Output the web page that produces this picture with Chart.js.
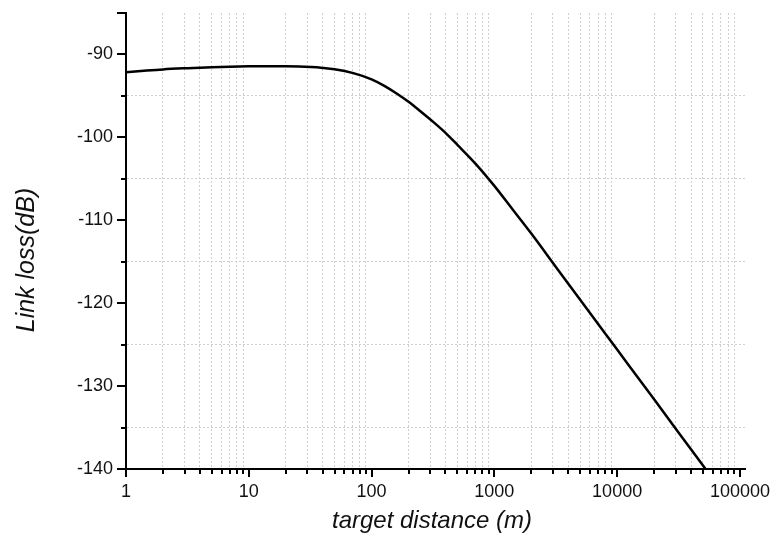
<!DOCTYPE html>
<html>
<head>
<meta charset="utf-8">
<script src="https://cdn.jsdelivr.net/npm/chart.js@4"></script>
<style>
    html, body { margin: 0; padding: 0; background: #fff; }
    #wrap { width: 776px; height: 545px; }
</style>
</head>
<body>
<div id="wrap"><canvas id="lossChart"></canvas></div>
<script>
// Values (distance in m, loss in dB)
const distances = [1, 1.4, 2, 3.2, 5, 7, 10, 14, 20, 32, 40, 50, 71, 100, 126, 160, 200, 250, 316, 400, 500, 710, 1000, 1410, 2000, 3160, 5000, 10000, 20000, 31600, 52500];
const linkLoss = [-92.15, -91.97, -91.8, -91.65, -91.53, -91.47, -91.43, -91.42, -91.43, -91.52, -91.62, -91.78, -92.25, -93.0, -93.75, -94.7, -95.7, -96.85, -98.1, -99.45, -100.9, -103.25, -105.85, -108.7, -111.6, -115.6, -119.6, -125.6, -131.6, -135.6, -140.0];

// Axis ticks
const xMajorTicks = [1, 10, 100, 1000, 10000, 100000];
const xMinorSteps = [2, 3, 4, 5, 6, 7, 8, 9];
const yMajorTicks = [-140, -130, -120, -110, -100, -90];
const yMinorTicks = [-135, -125, -115, -105, -95, -85];

const xTitle = 'target distance (m)';
const yTitle = 'Link loss(dB)';

const font = 'Liberation Sans';
const gridColor = '#cfcfcf';

// Outward tick marks (long majors, short minors) and the two axis titles
const axisExtras = {
    id: 'axisExtras',
    afterDatasetsDraw(chart) {
        const { ctx, chartArea, scales } = chart;
        ctx.save();
        ctx.strokeStyle = '#000';
        ctx.lineWidth = 2;
        scales.x.ticks.forEach(t => {
            const px = Math.round(scales.x.getPixelForValue(t.value));
            const len = t.major ? 8 : 5;
            ctx.beginPath();
            ctx.moveTo(px, chartArea.bottom);
            ctx.lineTo(px, chartArea.bottom + len);
            ctx.stroke();
        });
        scales.y.ticks.forEach(t => {
            const py = Math.round(scales.y.getPixelForValue(t.value));
            const len = t.major ? 9 : 5;
            ctx.beginPath();
            ctx.moveTo(chartArea.left, py);
            ctx.lineTo(chartArea.left - len, py);
            ctx.stroke();
        });

        ctx.fillStyle = '#111';
        ctx.textAlign = 'center';
        ctx.textBaseline = 'middle';
        ctx.font = 'italic 24px "' + font + '"';
        ctx.fillText(xTitle, 432, 521);
        ctx.translate(27, 260);
        ctx.rotate(-Math.PI / 2);
        ctx.font = 'italic 25px "' + font + '"';
        ctx.fillText(yTitle, 0, 0);
        ctx.restore();
    }
};

const gridColorFn = c => (c.tick && c.tick.major) ? 'rgba(0,0,0,0)' : gridColor;

new Chart(document.getElementById('lossChart'), {
    type: 'line',
    data: {
        datasets: [{
            data: distances.map((d, i) => ({ x: d, y: linkLoss[i] })),
            borderColor: '#000',
            borderWidth: 2.5,
            pointRadius: 0,
            fill: false,
            cubicInterpolationMode: 'monotone'
        }]
    },
    options: {
        responsive: true,
        maintainAspectRatio: false,
        animation: false,
        layout: { padding: { top: 13, right: 31, left: 0, bottom: 0 } },
        plugins: { legend: { display: false }, tooltip: { enabled: false } },
        scales: {
            x: {
                type: 'logarithmic',
                min: 1,
                max: 110000,
                afterBuildTicks: scale => {
                    const ticks = [];
                    xMajorTicks.forEach(m => {
                        ticks.push({ value: m, major: true });
                        if (m < 100000) xMinorSteps.forEach(s => ticks.push({ value: m * s, major: false }));
                    });
                    scale.ticks = ticks;
                },
                afterFit: scale => {
                    scale.height = 76;
                    scale.paddingLeft = 0;
                    scale.paddingRight = 0;
                },
                grid: { color: gridColorFn, lineWidth: 1, drawTicks: false },
                border: { color: '#000', width: 2, dash: [2, 2] },
                ticks: {
                    autoSkip: false,
                    maxRotation: 0,
                    minRotation: 0,
                    padding: 12,
                    color: '#111',
                    font: { family: font, size: 18 },
                    callback: v => xMajorTicks.includes(v) ? String(v) : ''
                }
            },
            y: {
                type: 'linear',
                min: -140,
                max: -85,
                afterBuildTicks: scale => {
                    const ticks = yMajorTicks.map(v => ({ value: v, major: true }))
                        .concat(yMinorTicks.map(v => ({ value: v, major: v === -85 })));
                    ticks.sort((a, b) => a.value - b.value);
                    scale.ticks = ticks;
                },
                afterFit: scale => {
                    scale.width = 126;
                    scale.paddingTop = 0;
                    scale.paddingBottom = 0;
                },
                grid: { color: gridColorFn, lineWidth: 1, drawTicks: false },
                border: { color: '#000', width: 2, dash: [2, 2] },
                ticks: {
                    autoSkip: false,
                    padding: 13,
                    color: '#111',
                    font: { family: font, size: 18 },
                    callback: v => yMajorTicks.includes(v) ? String(v) : ''
                }
            }
        }
    },
    plugins: [axisExtras]
});
</script>
</body>
</html>
